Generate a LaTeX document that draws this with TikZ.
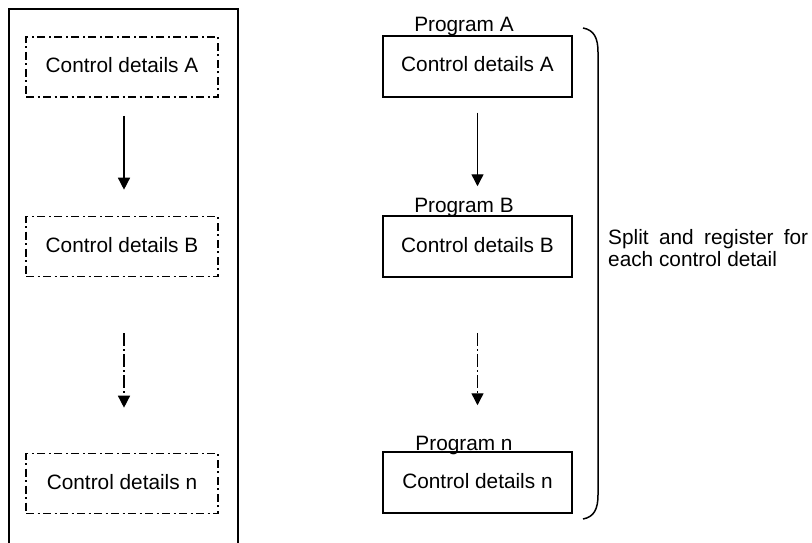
\documentclass[tikz,border=0pt]{standalone}
\usepackage{fontspec}
\setmainfont{Liberation Sans}
\usetikzlibrary{arrows.meta}
\begin{document}
\begin{tikzpicture}[x=1pt,y=-1pt,
  font=\fontsize{20.8}{22}\selectfont,
  dashbox/.style={draw,line width=1.6pt,dash pattern=on 8pt off 3.5pt on 2pt off 3.5pt,
    minimum width=192pt,minimum height=60pt,inner sep=0pt,text height=11pt,text depth=0pt},
  solidbox/.style={draw,line width=1.5pt,
    minimum width=189pt,minimum height=61pt,inner sep=0pt,text height=11pt,text depth=0pt},
  plabel/.style={anchor=base,inner sep=0pt},
  flow/.style={line width=1.4pt,-{Triangle[width=12pt,length=12pt]}},
  dflow/.style={flow,dash pattern=on 13pt off 3pt on 2pt off 3pt}
]
\useasboundingbox (0,0) rectangle (812,543);
% left frame
\draw[line width=1.6pt] (9,545) -- (9,9) -- (238,9) -- (238,545);
% left boxes
\node[dashbox] (lA) at (122,67) {Control details A};
\node[dashbox] (lB) at (122,246.5) {Control details B};
\node[dashbox] (ln) at (122,483.5) {Control details n};
\draw[flow,shorten <=18pt,shorten >=26pt] ([xshift=2pt]lA.south) -- ([xshift=2pt]lB.north);
\draw[dflow,shorten <=56pt,shorten >=45pt] ([xshift=2pt]lB.south) -- ([xshift=2pt]ln.north);
% right boxes
\node[solidbox] (rA) at (477.5,66.5) {Control details A};
\node[solidbox] (rB) at (477.5,246.5) {Control details B};
\node[solidbox] (rn) at (477.5,482.5) {Control details n};
\node[plabel] (pA) at (464,32) {Program A};
\node[plabel] (pB) at (464,212) {Program B};
\node[plabel] (pn) at (464,450) {Program n};
\draw[flow,shorten <=15pt,shorten >=29pt] (rA.south) -- (rB.north);
\draw[dflow,shorten <=55pt,shorten >=46pt] (rB.south) -- (rn.north);
% bracket
\draw[line width=1.5pt] (583,28) .. controls (594,30) and (598,38) .. (598,52)
  -- (598,495) .. controls (598,509) and (594,517) .. (583,519);
% side text
\node[anchor=base west,inner sep=0pt,align=left] (side) at (608,266)
  {\makebox[200pt][s]{Split and register for}\\each control detail};
\end{tikzpicture}
\end{document}
